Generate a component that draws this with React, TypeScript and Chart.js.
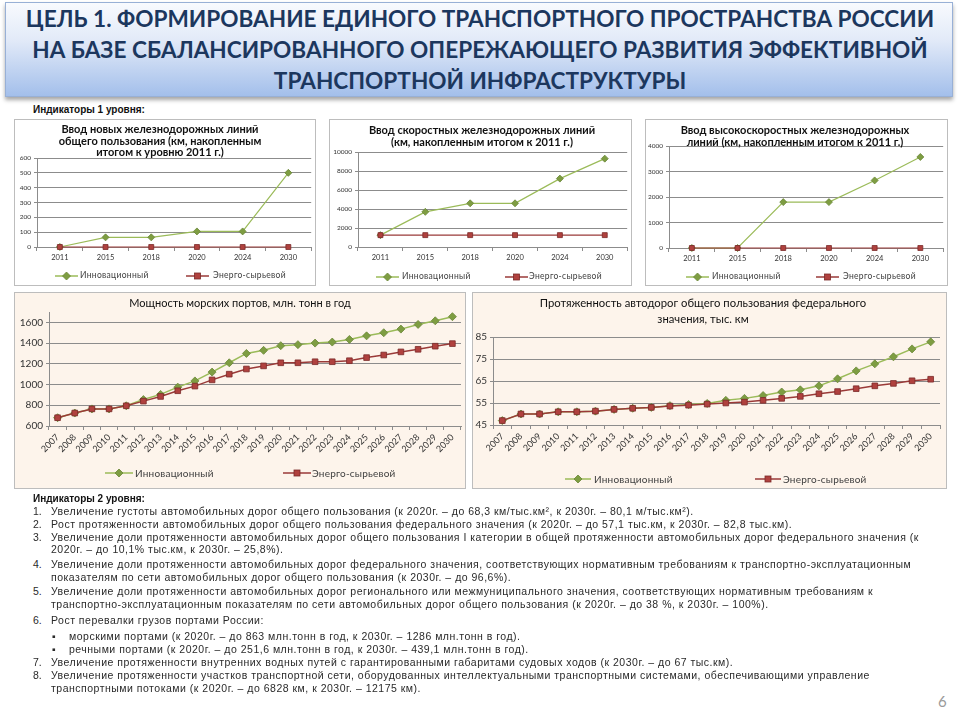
import React, { useEffect, useRef } from 'react';
import { Chart, registerables } from 'chart.js';

Chart.register(...registerables);

// ---------- DATA ----------
const yearsShort = ['2011', '2015', '2018', '2020', '2024', '2030'];
const railInno = [0, 65, 65, 105, 105, 500];
const railEnergy = [0, 0, 0, 0, 0, 0];
const speedInno = [1250, 3700, 4600, 4600, 7200, 9300];
const speedEnergy = [1250, 1250, 1250, 1250, 1250, 1250];
const hsInno = [0, 0, 1800, 1800, 2650, 3570];
const hsEnergy = [0, 0, 0, 0, 0, 0];

const yearsLong = ['2007', '2008', '2009', '2010', '2011', '2012', '2013', '2014', '2015', '2016', '2017', '2018',
  '2019', '2020', '2021', '2022', '2023', '2024', '2025', '2026', '2027', '2028', '2029', '2030'];
const portsInno = [680, 725, 765, 765, 795, 855, 905, 975, 1035, 1120, 1210, 1300,
  1330, 1375, 1385, 1400, 1410, 1435, 1470, 1500, 1535, 1580, 1615, 1655];
const portsEnergy = [680, 725, 765, 765, 795, 840, 885, 940, 985, 1045, 1100, 1150,
  1180, 1210, 1210, 1220, 1220, 1230, 1260, 1285, 1315, 1340, 1370, 1395];
const roadsInno = [47, 50, 50, 51, 51, 51.3, 52.1, 52.6, 53, 53.8, 54.3, 54.8,
  56.2, 57.1, 58.4, 60, 61, 62.8, 66, 69.6, 72.8, 76, 79.6, 82.8];
const roadsEnergy = [47, 50, 50, 51, 51, 51.3, 52.1, 52.6, 53, 53.6, 54, 54.5,
  55, 55.4, 56.2, 57.1, 58, 59.2, 60.2, 61.5, 62.8, 63.9, 65.1, 65.8];

const seriesNames = ['Инновационный', 'Энерго-сырьевой'];

// ---------- STYLE ----------
const INNO_LINE = '#9BBB59';
const INNO_PT = '#7E9D42';
const INNO_PT_B = '#6A8637';
const EN_LINE = '#9A3A38';
const EN_PT = '#B0413E';
const EN_PT_B = '#7A2A28';
const GRID = '#8C8C8C';
const TXT = '#333333';
const FONT = "Lato, 'Liberation Sans', sans-serif";

Chart.defaults.font.family = FONT;

type Spec = {
  box: { x: number; y: number; w: number; h: number };
  bg: string;
  title: string[];
  titleX: number;
  titleY: number;
  titleSize: number;
  titleWeight: number;
  titleLH: number;
  plot: { l: number; t: number; r: number; b: number };
  xh: number;
  labels: string[];
  inno: number[];
  energy: number[];
  yMin: number;
  yMax: number;
  yStep: number;
  yTop: number;
  yFont: number;
  xFont: number;
  rotate: number;
  lineW: number;
  rInno: number;
  rEn: number;
  legend: { y: number; m1: number; t1: number; m2: number; t2: number; mw: number; font: number; ls: number };
};

function Marker({ kind, w, x, y }: { kind: 'inno' | 'en'; w: number; x: number; y: number }) {
  const c = w / 2;
  return (
    <svg width={w} height={10} style={{ position: 'absolute', left: x, top: y - 5 }}>
      <line x1={0} y1={5} x2={w} y2={5} stroke={kind === 'inno' ? INNO_LINE : EN_LINE} strokeWidth={1.5} />
      {kind === 'inno' ? (
        <polygon points={`${c},1 ${c + 4},5 ${c},9 ${c - 4},5`} fill={INNO_PT} stroke={INNO_PT_B} strokeWidth={0.8} />
      ) : (
        <rect x={c - 3} y={2} width={6} height={6} fill={EN_PT} stroke={EN_PT_B} strokeWidth={0.8} />
      )}
    </svg>
  );
}

function Panel({ s }: { s: Spec }) {
  const ref = useRef<HTMLCanvasElement | null>(null);
  useEffect(() => {
    if (!ref.current) return;
    const chart = new Chart(ref.current, {
      type: 'line',
      data: {
        labels: s.labels,
        datasets: [
          {
            label: seriesNames[0], data: s.inno, borderColor: INNO_LINE, borderWidth: s.lineW,
            pointStyle: 'rectRot', pointRadius: s.rInno, pointBackgroundColor: INNO_PT,
            pointBorderColor: INNO_PT_B, pointBorderWidth: 0.8, tension: 0, clip: false, order: 1,
          },
          {
            label: seriesNames[1], data: s.energy, borderColor: EN_LINE, borderWidth: s.lineW,
            pointStyle: 'rect', pointRadius: s.rEn, pointBackgroundColor: EN_PT,
            pointBorderColor: EN_PT_B, pointBorderWidth: 0.8, tension: 0, clip: false, order: 0,
          },
        ],
      },
      options: {
        animation: false,
        responsive: false,
        events: [],
        layout: {
          padding: { left: 0, top: s.plot.t, right: s.box.w - s.plot.r, bottom: s.box.h - s.plot.b - s.xh },
        },
        plugins: { legend: { display: false }, title: { display: false }, tooltip: { enabled: false } },
        scales: {
          x: {
            type: 'category',
            offset: true,
            grid: { display: true, drawOnChartArea: false, offset: true, tickLength: 4, color: GRID },
            border: { color: GRID },
            ticks: {
              font: { size: s.xFont }, color: TXT, autoSkip: false,
              maxRotation: s.rotate, minRotation: s.rotate, padding: 2,
            },
            afterFit: (sc: any) => { sc.height = s.xh; },
          },
          y: {
            min: s.yMin,
            max: s.yMax,
            grid: { color: GRID, tickLength: 3 },
            border: { color: GRID },
            ticks: { stepSize: s.yStep, font: { size: s.yFont }, color: TXT, padding: 3, callback: (v: any) => String(v) },
            afterFit: (sc: any) => { sc.width = s.plot.l; },
            afterBuildTicks: (sc: any) => {
              const t: { value: number }[] = [];
              for (let v = s.yMin; v <= s.yTop + 1e-9; v += s.yStep) t.push({ value: v });
              sc.ticks = t;
            },
          },
        },
      },
    } as any);
    return () => chart.destroy();
  }, []);

  const { box, legend } = s;
  const legText = (left: number, txt: string) => (
    <div style={{
      position: 'absolute', left, top: legend.y - legend.font * 0.65, fontFamily: FONT, fontSize: legend.font,
      letterSpacing: legend.ls, color: '#404040', lineHeight: legend.font * 1.3 + 'px', whiteSpace: 'nowrap',
    }}>{txt}</div>
  );
  return (
    <>
      <div style={{
        position: 'absolute', left: box.x, top: box.y, width: box.w, height: box.h,
        background: s.bg, boxShadow: 'inset 0 0 0 1px #BDBDBD',
      }}>
        <canvas ref={ref} width={box.w} height={box.h} style={{ position: 'absolute', left: 0, top: 0 }} />
      </div>
      <div style={{
        position: 'absolute', left: s.titleX - 200, width: 400, top: s.titleY, textAlign: 'center',
        fontFamily: FONT, fontSize: s.titleSize, fontWeight: s.titleWeight, lineHeight: s.titleLH + 'px', color: '#111',
        whiteSpace: 'nowrap',
      }}>
        {s.title.map((t, i) => <div key={i}>{t}</div>)}
      </div>
      <Marker kind="inno" w={legend.mw} x={legend.m1} y={legend.y} />
      {legText(legend.t1, seriesNames[0])}
      <Marker kind="en" w={legend.mw} x={legend.m2} y={legend.y} />
      {legText(legend.t2, seriesNames[1])}
    </>
  );
}

const specs: Spec[] = [
  {
    box: { x: 14, y: 119, w: 302, h: 167 }, bg: '#FFFFFF',
    title: ['Ввод новых железнодорожных линий', 'общего пользования (км, накопленным', 'итогом к уровню 2011 г.)'],
    titleX: 160, titleY: 123, titleSize: 11, titleWeight: 700, titleLH: 11.5,
    plot: { l: 23, t: 39, r: 300, b: 128 }, xh: 20,
    labels: yearsShort, inno: railInno, energy: railEnergy,
    yMin: 0, yMax: 600, yStep: 100, yTop: 600, yFont: 6.5, xFont: 7.5, rotate: 0, lineW: 1.2, rInno: 3.5, rEn: 3.5,
    legend: { y: 276, m1: 55, t1: 80, m2: 186, t2: 213, mw: 23, font: 8.5, ls: 0.3 },
  },
  {
    box: { x: 329, y: 119, w: 303, h: 167 }, bg: '#FFFFFF',
    title: ['Ввод скоростных железнодорожных линий', '(км, накопленным итогом к 2011 г.)'],
    titleX: 482, titleY: 124, titleSize: 11, titleWeight: 700, titleLH: 11.5,
    plot: { l: 29, t: 33, r: 301, b: 128 }, xh: 20,
    labels: yearsShort, inno: speedInno, energy: speedEnergy,
    yMin: 0, yMax: 10000, yStep: 2000, yTop: 10000, yFont: 6.5, xFont: 7.5, rotate: 0, lineW: 1.2, rInno: 3.5, rEn: 3.5,
    legend: { y: 277, m1: 376, t1: 402, m2: 505, t2: 529, mw: 23, font: 8.5, ls: 0.3 },
  },
  {
    box: { x: 645, y: 119, w: 303, h: 167 }, bg: '#FFFFFF',
    title: ['Ввод высокоскоростных железнодорожных', 'линий (км, накопленным итогом к 2011 г.)'],
    titleX: 795, titleY: 124, titleSize: 11, titleWeight: 700, titleLH: 11.5,
    plot: { l: 24, t: 27, r: 299, b: 129 }, xh: 20,
    labels: yearsShort, inno: hsInno, energy: hsEnergy,
    yMin: 0, yMax: 4000, yStep: 1000, yTop: 4000, yFont: 6.5, xFont: 7.5, rotate: 0, lineW: 1.2, rInno: 3.5, rEn: 3.5,
    legend: { y: 277, m1: 686, t1: 712, m2: 816, t2: 843, mw: 23, font: 8.5, ls: 0.3 },
  },
  {
    box: { x: 14, y: 292, w: 452, h: 197 }, bg: '#FDF4EB',
    title: ['Мощность морских портов,  млн. тонн в год'],
    titleX: 240, titleY: 296, titleSize: 11, titleWeight: 400, titleLH: 14,
    plot: { l: 35, t: 20, r: 447, b: 134 }, xh: 45,
    labels: yearsLong, inno: portsInno, energy: portsEnergy,
    yMin: 600, yMax: 1700, yStep: 200, yTop: 1600, yFont: 10, xFont: 9, rotate: 45, lineW: 1.5, rInno: 4, rEn: 4,
    legend: { y: 473, m1: 105, t1: 135, m2: 283, t2: 312, mw: 28, font: 10, ls: 0.2 },
  },
  {
    box: { x: 472, y: 292, w: 475, h: 197 }, bg: '#FDF4EB',
    title: ['Протяженность автодорог общего пользования федерального', 'значения, тыс. км'],
    titleX: 703, titleY: 295, titleSize: 11.3, titleWeight: 400, titleLH: 15.5,
    plot: { l: 21, t: 45, r: 468, b: 133 }, xh: 45,
    labels: yearsLong, inno: roadsInno, energy: roadsEnergy,
    yMin: 45, yMax: 85, yStep: 10, yTop: 85, yFont: 10, xFont: 9, rotate: 45, lineW: 1.5, rInno: 4, rEn: 4,
    legend: { y: 479, m1: 565, t1: 594, m2: 755, t2: 783, mw: 26, font: 10, ls: 0.2 },
  },
];

type TLine = { y: number; num?: string; bullet?: boolean; text: string };
const textLines: TLine[] = [
  { y: 511, num: '1.', text: 'Увеличение густоты автомобильных дорог общего пользования (к 2020г. – до 68,3 км/тыс.км², к 2030г. – 80,1 м/тыс.км²).' },
  { y: 524, num: '2.', text: 'Рост протяженности автомобильных дорог общего пользования федерального значения (к 2020г. – до 57,1 тыс.км, к 2030г. – 82,8 тыс.км).' },
  { y: 537, num: '3.', text: 'Увеличение доли протяженности автомобильных дорог общего пользования I категории в общей протяженности автомобильных дорог федерального значения (к' },
  { y: 549, text: '2020г. – до 10,1% тыс.км, к 2030г. – 25,8%).' },
  { y: 564, num: '4.', text: 'Увеличение доли протяженности автомобильных дорог федерального значения, соответствующих нормативным требованиям к транспортно-эксплуатационным' },
  { y: 577, text: 'показателям по сети автомобильных дорог общего пользования (к 2030г. – до 96,6%).' },
  { y: 591, num: '5.', text: 'Увеличение доли протяженности автомобильных дорог регионального или межмуниципального значения, соответствующих нормативным требованиям к' },
  { y: 604, text: 'транспортно-эксплуатационным показателям по сети автомобильных дорог общего пользования (к 2020г. – до 38 %, к 2030г. – 100%).' },
  { y: 620, num: '6.', text: 'Рост перевалки грузов портами России:' },
  { y: 636, bullet: true, text: 'морскими портами (к 2020г. – до 863 млн.тонн в год, к 2030г. – 1286 млн.тонн в год).' },
  { y: 649, bullet: true, text: 'речными портами (к 2020г. – до 251,6 млн.тонн в год, к 2030г. – 439,1 млн.тонн в год).' },
  { y: 662, num: '7.', text: 'Увеличение протяженности внутренних водных путей с гарантированными габаритами судовых ходов (к 2030г. – до 67 тыс.км).' },
  { y: 675, num: '8.', text: 'Увеличение протяженности участков транспортной сети, оборудованных интеллектуальными транспортными системами, обеспечивающими управление' },
  { y: 688, text: 'транспортными потоками (к 2020г. – до 6828 км, к 2030г. – 12175 км).' },
];

const TF = "'Liberation Sans', Arial, sans-serif";
const TSIZE = 10.5;
const TLS = 0.5;

export default function App() {
  return (
    <div style={{ position: 'absolute', left: 0, top: 0, width: 960, height: 720, background: '#FFFFFF', overflow: 'hidden' }}>
      <div style={{
        position: 'absolute', left: 5, top: 2, width: 946, height: 93,
        background: 'linear-gradient(180deg, #F8FAFE 0%, #E2EAF8 40%, #A3BFEB 100%)',
        border: '1px solid #98B0D6', boxShadow: '0 3px 4px rgba(0,0,0,0.35)',
      }} />
      <div style={{
        position: 'absolute', left: 0, top: 3, width: 960, textAlign: 'center', fontFamily: FONT,
        fontWeight: 700, fontSize: 22.6, lineHeight: '31px', color: '#1C375E', whiteSpace: 'nowrap',
      }}>
        <div>ЦЕЛЬ 1. ФОРМИРОВАНИЕ ЕДИНОГО ТРАНСПОРТНОГО ПРОСТРАНСТВА РОССИИ</div>
        <div>НА БАЗЕ СБАЛАНСИРОВАННОГО ОПЕРЕЖАЮЩЕГО РАЗВИТИЯ ЭФФЕКТИВНОЙ</div>
        <div>ТРАНСПОРТНОЙ ИНФРАСТРУКТУРЫ</div>
      </div>

      <div style={{ position: 'absolute', left: 33, top: 103, fontFamily: TF, fontWeight: 700, fontSize: 10, lineHeight: '14px', color: '#111' }}>
        Индикаторы 1 уровня:
      </div>

      {specs.map((s, i) => <Panel key={i} s={s} />)}

      <div style={{ position: 'absolute', left: 33, top: 492, fontFamily: TF, fontWeight: 700, fontSize: 10, lineHeight: '14px', color: '#111' }}>
        Индикаторы 2 уровня:
      </div>
      {textLines.map((l, i) => (
        <React.Fragment key={i}>
          {l.num && (
            <div style={{ position: 'absolute', left: 33, top: l.y - 7, fontFamily: TF, fontSize: TSIZE, lineHeight: '14px', color: '#2A2A2A' }}>{l.num}</div>
          )}
          {l.bullet && (
            <div style={{ position: 'absolute', left: 52, top: l.y - 7, fontFamily: TF, fontSize: TSIZE, lineHeight: '14px', color: '#2A2A2A' }}>▪</div>
          )}
          <div style={{
            position: 'absolute', left: l.bullet ? 69 : 51, top: l.y - 7, fontFamily: TF, fontSize: TSIZE,
            letterSpacing: TLS, lineHeight: '14px', color: '#2A2A2A', whiteSpace: 'nowrap',
          }}>{l.text}</div>
        </React.Fragment>
      ))}

      <div style={{ position: 'absolute', left: 938, top: 692, fontFamily: FONT, fontSize: 15, color: '#9A9A9A' }}>6</div>
    </div>
  );
}
